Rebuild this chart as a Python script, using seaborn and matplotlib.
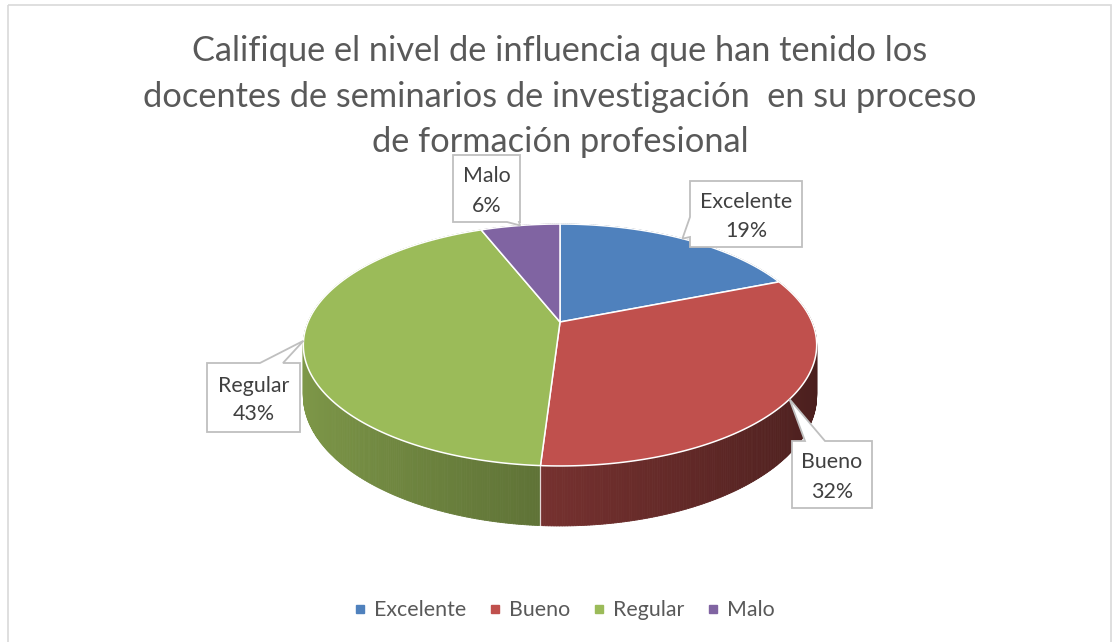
import numpy as np
import matplotlib
matplotlib.use("Agg")
import matplotlib.pyplot as plt
from matplotlib.patches import Polygon, Rectangle
from matplotlib.collections import PolyCollection
from matplotlib.lines import Line2D
import seaborn as sns

# ---------------- data ----------------
categories = ["Excelente", "Bueno", "Regular", "Malo"]
percentages = [19, 32, 43, 6]
colors_hex = ["#4F81BD", "#C0504D", "#9BBB59", "#8064A2"]
title_lines = ["Califique el nivel de influencia que han tenido los",
               "docentes de seminarios de investigación  en su proceso",
               "de formación profesional"]

sns.set_theme(style="white")
FONT = ["Lato", "DejaVu Sans"]
plt.rcParams["font.family"] = FONT
palette = sns.color_palette(colors_hex)

W, H = 1113, 642
fig = plt.figure(figsize=(W / 100, H / 100), dpi=100)
ax = fig.add_axes([0, 0, 1, 1])
ax.set_xlim(0, W)
ax.set_ylim(H, 0)
ax.axis("off")
renderer = fig.canvas.get_renderer()

def fit_size(text, target_px, base=20):
    t = ax.text(0, 0, text, fontsize=base)
    w = t.get_window_extent(renderer).width
    t.remove()
    return base * target_px / w

# chart border
ax.add_patch(Rectangle((8, 5), 1103, 660, fill=False, ec="#D9D9D9", lw=1.2, zorder=0))

# ---------------- perspective pie geometry ----------------
cx, cy = 560, 322
a, b, k, d = 252, 116.6, 0.19, 48.6

def proj(theta, bottom=False):
    x, y = np.cos(theta), np.sin(theta)
    w = 1 + k * y
    px = cx + a * x / w
    py = cy - b * y / w + (d / w if bottom else 0)
    return px, py

vals = np.array(percentages, dtype=float)
fr = vals / vals.sum()
starts = np.pi / 2 - 2 * np.pi * np.concatenate([[0], np.cumsum(fr)[:-1]])
ends = starts - 2 * np.pi * fr

# side faces
quads, qcols, qkeys = [], [], []
for s, e, col in zip(starts, ends, palette):
    n = max(4, int(abs(s - e) / np.deg2rad(0.5)))
    th = np.linspace(s, e, n + 1)
    for t1, t2 in zip(th[:-1], th[1:]):
        p1 = proj(t1); p2 = proj(t2)
        q1 = proj(t2, True); q2 = proj(t1, True)
        tm = 0.5 * (t1 + t2)
        f = 0.6 - 0.22 * np.cos(tm)
        c = tuple(np.clip(np.array(col) * f, 0, 1))
        quads.append([p1, p2, q1, q2])
        qcols.append(c)
        qkeys.append(np.sin(tm))
order = np.argsort(-np.array(qkeys))
pc = PolyCollection([quads[i] for i in order], facecolors=[qcols[i] for i in order],
                    edgecolors=[qcols[i] for i in order], linewidths=0.6, zorder=2)
ax.add_collection(pc)

# white seam on visible side boundaries
for s in starts:
    if np.sin(s) < -0.2:
        p = proj(s); q = proj(s, True)
        ax.plot([p[0], q[0]], [p[1], q[1]], color="white", lw=0.9, alpha=0.8, zorder=3)

# top face wedges
for s, e, col in zip(starts, ends, palette):
    n = max(4, int(abs(s - e) / np.deg2rad(0.5)))
    th = np.linspace(s, e, n + 1)
    pts = [(cx, cy)] + [proj(t) for t in th]
    ax.add_patch(Polygon(pts, closed=True, fc=col, ec="white", lw=1.1, zorder=4,
                         joinstyle="round"))

# ---------------- data labels (callouts) ----------------
boxes = {
    "Excelente": dict(box=(690, 181, 802, 247), edge="left", base=(217, 237)),
    "Bueno": dict(box=(792, 441, 872, 508), edge="top", base=(805, 825)),
    "Regular": dict(box=(207, 363, 300, 432), edge="top", base=(260, 283)),
    "Malo": dict(box=(453, 155, 520, 222), edge="bottom", base=(507, 519)),
}
lab_fs = fit_size("Excelente", 92)
for cat, pct, s, e in zip(categories, percentages, starts, ends):
    spec = boxes[cat]
    x0, y0, x1, y1 = spec["box"]
    tip = proj(0.5 * (s + e))
    b1, b2 = spec["base"]
    if spec["edge"] == "top":
        pts = [(x0, y0), (b1, y0), tip, (b2, y0), (x1, y0), (x1, y1), (x0, y1)]
    elif spec["edge"] == "bottom":
        pts = [(x0, y0), (x1, y0), (x1, y1), (b2, y1), tip, (b1, y1), (x0, y1)]
    else:  # left
        pts = [(x0, y0), (x1, y0), (x1, y1), (x0, y1), (x0, b2), tip, (x0, b1)]
    ax.add_patch(Polygon(pts, closed=True, fc="white", ec="#BFBFBF", lw=1.3, zorder=6))
    xm = 0.5 * (x0 + x1); ym = 0.5 * (y0 + y1)
    ax.text(xm, ym - 12, cat, ha="center", va="center", fontsize=lab_fs,
            color="#404040", zorder=7)
    ax.text(xm, ym + 17, f"{pct}%", ha="center", va="center", fontsize=lab_fs,
            color="#404040", zorder=7)

# ---------------- title ----------------
t_fs = fit_size(title_lines[1], 836)
for line, yb in zip(title_lines, [61, 107, 152]):
    ax.text(560, yb, line, ha="center", va="baseline", fontsize=t_fs, color="#595959", zorder=5)

# ---------------- legend ----------------
handles = [Line2D([], [], marker="s", linestyle="none", markersize=5.5,
                  markerfacecolor=c, markeredgecolor=c) for c in palette]
leg = ax.legend(handles, categories, loc="center", bbox_to_anchor=(564 / W, 1 - 610 / H),
                ncol=4, frameon=False, fontsize=lab_fs, handlelength=0.6,
                handletextpad=0.35, columnspacing=1.05, labelcolor="#595959")

fig.savefig("out.png", dpi=100, facecolor="white")
